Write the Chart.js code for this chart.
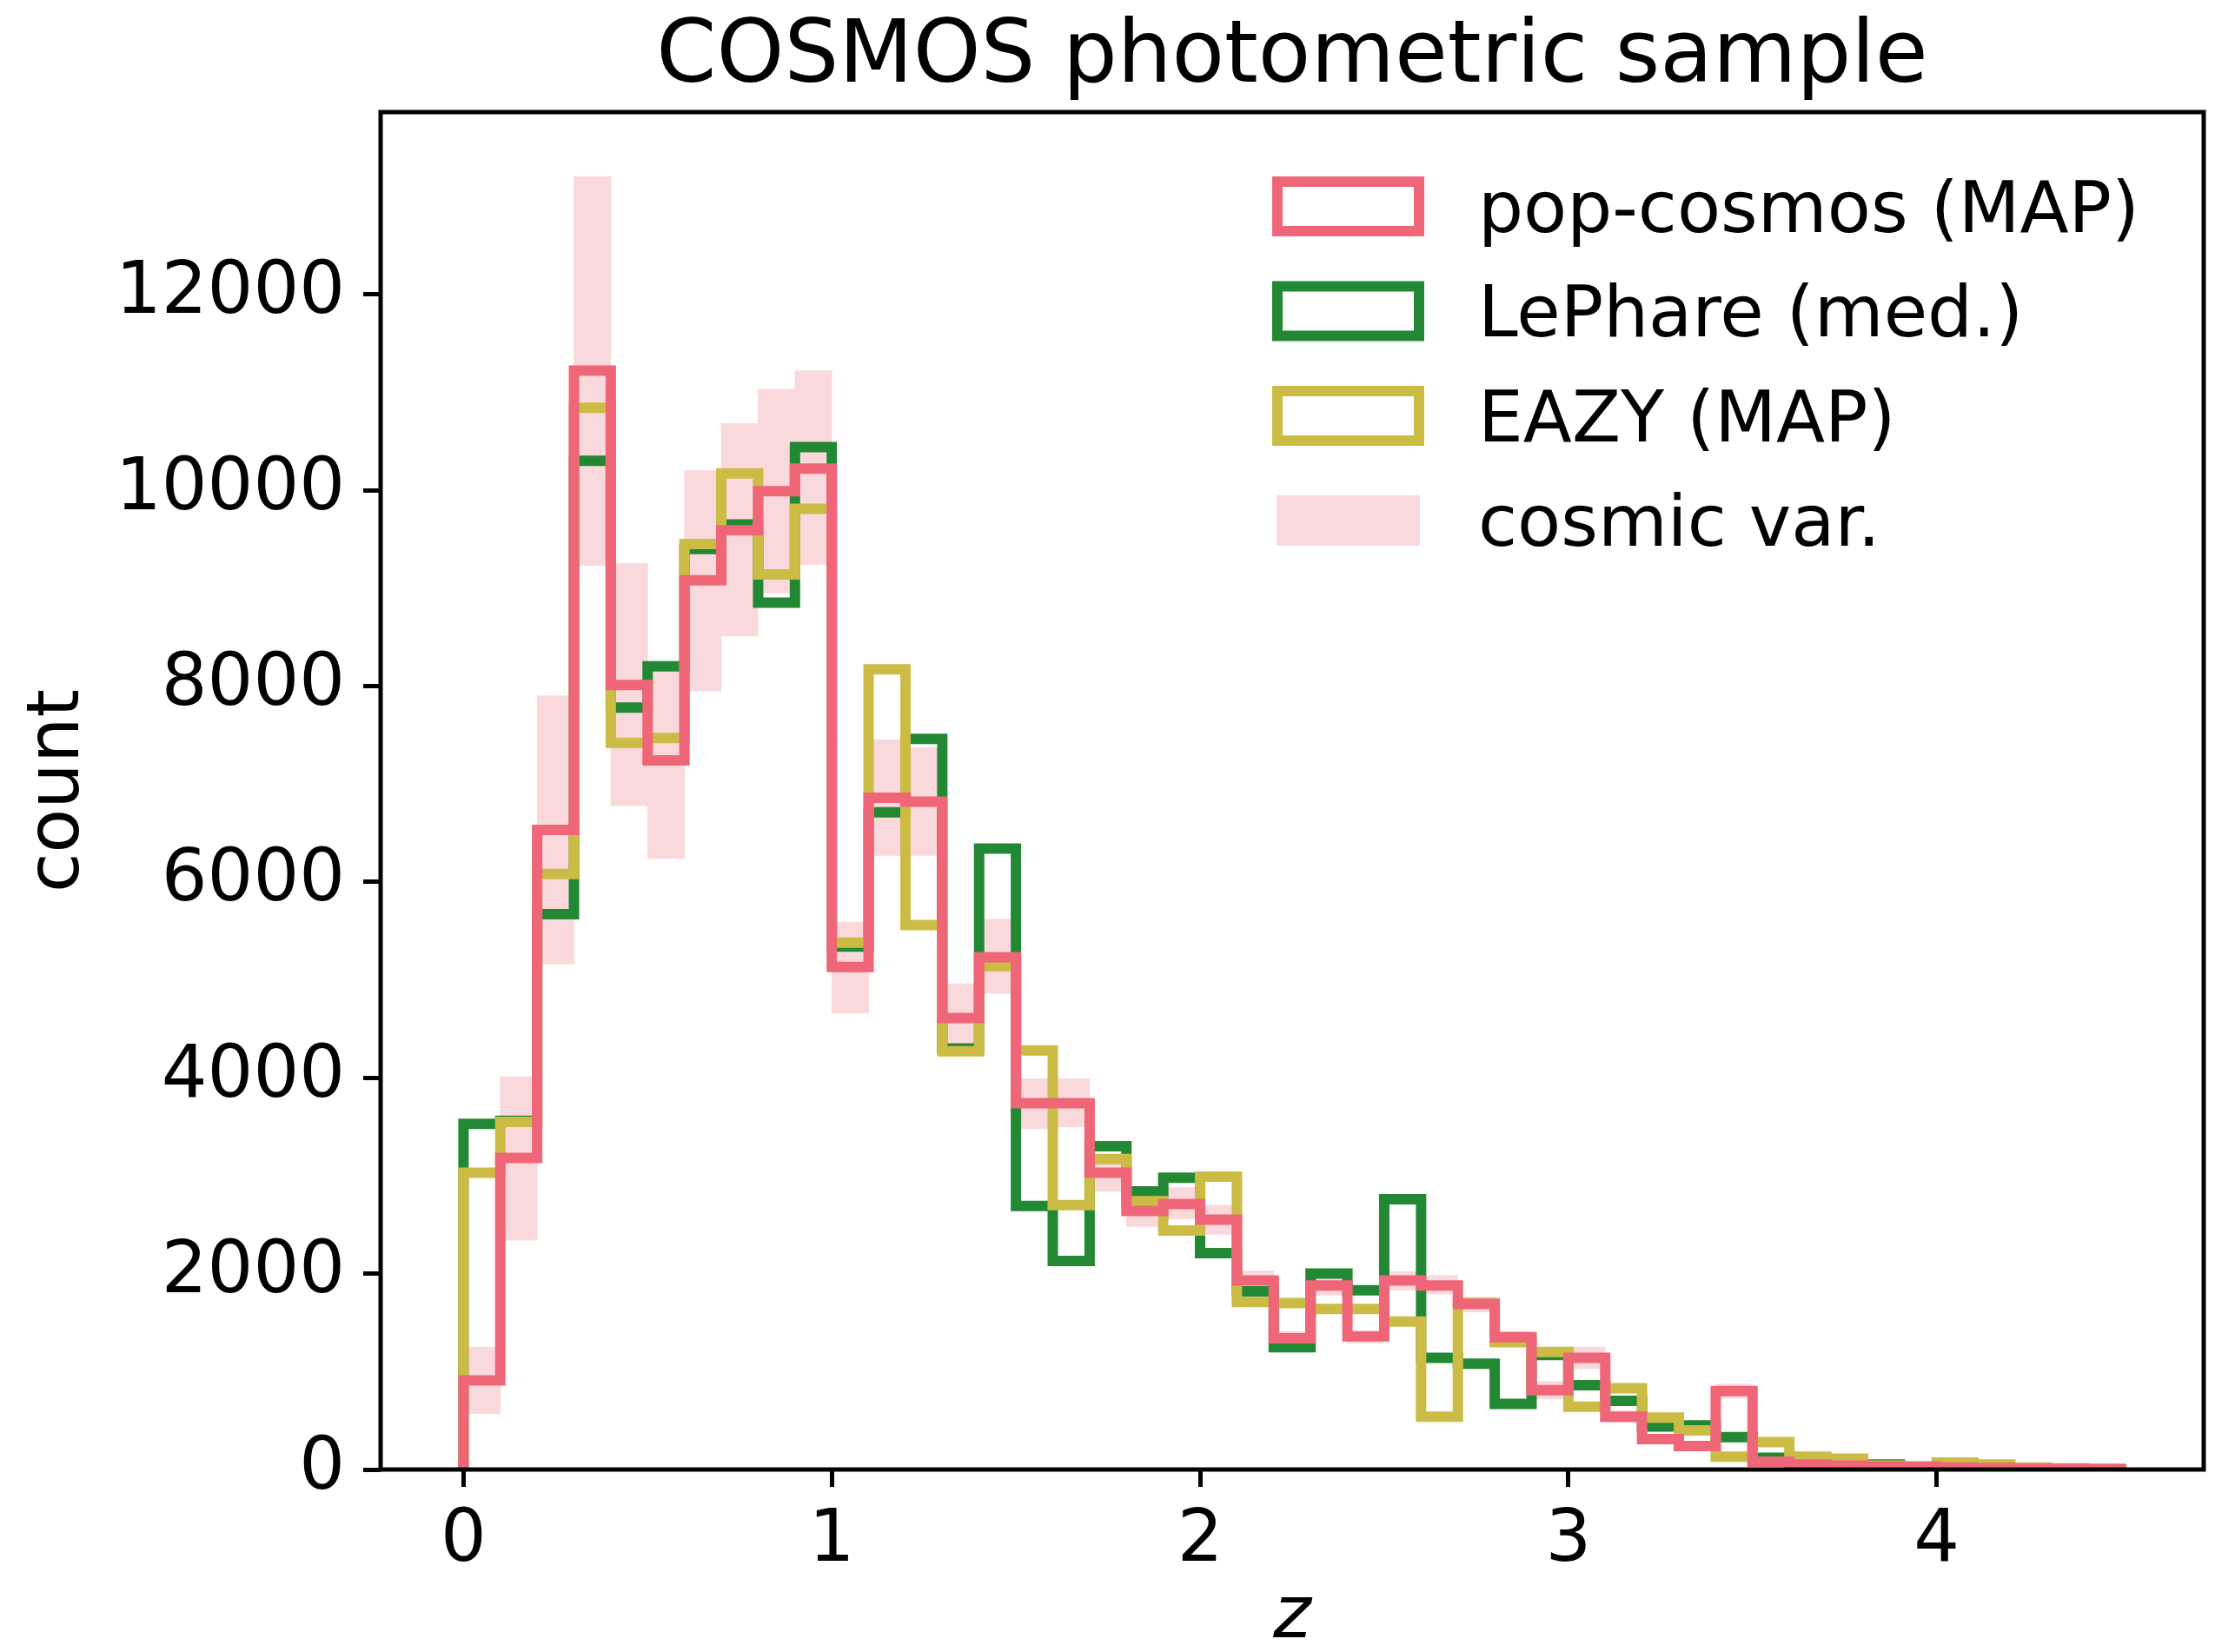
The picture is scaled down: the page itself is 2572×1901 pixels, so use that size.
<!DOCTYPE html>
<html>
<head>
<meta charset="utf-8">
<title>COSMOS photometric sample</title>
<script src="https://cdn.jsdelivr.net/npm/chart.js@4.4.1/dist/chart.umd.min.js"></script>
<style>
  html, body { margin: 0; padding: 0; background: #fff; }
  canvas { display: block; }
</style>
</head>
<body>
<canvas id="chart" width="2572" height="1901"></canvas>
<script>
// histogram bin edges in z
const zEdges = [0.0, 0.1, 0.2, 0.3, 0.4, 0.5, 0.6, 0.7, 0.8, 0.9,
    1.0, 1.1, 1.2, 1.3, 1.4, 1.5, 1.6, 1.7, 1.8, 1.9,
    2.0, 2.1, 2.2, 2.3, 2.4, 2.5, 2.6, 2.7, 2.8, 2.9,
    3.0, 3.1, 3.2, 3.3, 3.4, 3.5, 3.6, 3.7, 3.8, 3.9,
    4.0, 4.1, 4.2, 4.3, 4.4, 4.5]

// counts per bin
const popCosmos = [910, 3180, 6530, 11220, 8010, 7240, 9080, 9590, 9990, 10220,
    5130, 6860, 6820, 4610, 5230, 3740, 3740, 3030, 2640, 2710,
    2550, 1930, 1340, 1880, 1360, 1930, 1880, 1690, 1350, 810,
    1140, 540, 310, 240, 800, 80, 50, 40, 30, 30,
    20, 15, 10, 8, 5]
const lePhare = [3530, 3560, 5670, 10300, 7780, 8200, 9400, 9650, 8850, 10440,
    5340, 6710, 7460, 4300, 6340, 2690, 2130, 3300, 2840, 2980,
    2210, 1820, 1250, 2000, 1830, 2760, 1140, 1080, 670, 1170,
    860, 700, 440, 450, 330, 120, 80, 60, 50, 25,
    20, 10, 10, 5, 3]
const eazy = [3030, 3550, 6080, 10840, 7420, 7470, 9450, 10170, 9140, 9810,
    5380, 8170, 5560, 4270, 5140, 4280, 2700, 3170, 2740, 2440,
    2990, 1710, 1700, 1640, 1640, 1510, 540, 1700, 1300, 1200,
    640, 830, 530, 400, 130, 280, 130, 110, 40, 20,
    70, 50, 20, 10, 5]
// cosmic variance band (low / high)
const cosmicLow = [570, 2340, 5160, 9230, 6780, 6240, 7950, 8510, 8950, 9240,
    4660, 6270, 6270, 4300, 4860, 3480, 3500, 2840, 2480, 2560,
    2400, 1850, 1270, 1780, 1290, 1830, 1790, 1610, 1280, 720,
    1030, 480, 270, 200, 730, 60, 40, 30, 20, 20,
    10, 10, 5, 3, 2]
const cosmicHigh = [1250, 4010, 7900, 13200, 9250, 8150, 10200, 10680, 11030, 11220,
    5590, 7450, 7370, 4960, 5620, 3990, 3990, 3120, 2800, 2880,
    2700, 2030, 1410, 1950, 1410, 2020, 1980, 1760, 1410, 900,
    1250, 600, 350, 280, 870, 100, 70, 50, 40, 40,
    30, 20, 15, 10, 8]

const xTicks = [0, 1, 2, 3, 4]
const yTicks = [0, 2000, 4000, 6000, 8000, 10000, 12000]

const chartTitle = 'COSMOS photometric sample'
const RED = '#EE6677', GREEN = '#228833', YELLOW = '#CCBB44', PINK = 'rgb(250,217,221)'

Chart.defaults.font.family = '"DejaVu Sans", sans-serif'
Chart.defaults.color = '#000'

// outline of a histogram drawn as a step line
function stepOutline(counts) {
    const pts = [{x: zEdges[0], y: 0}];
    counts.forEach((c, i) => {
        pts.push({x: zEdges[i], y: c});
        pts.push({x: zEdges[i + 1], y: c});
    });
    pts.push({x: zEdges[zEdges.length - 1], y: 0});
    return pts;
}

const cosmicBars = cosmicLow.map((lo, i) => ({
    x: (zEdges[i] + zEdges[i + 1]) / 2,
    y: [lo, cosmicHigh[i]]
}));

function stepDataset(label, counts, color) {
    return {
        type: 'line',
        label: label,
        data: stepOutline(counts),
        borderColor: color,
        backgroundColor: color,
        borderWidth: 12,
        borderJoinStyle: 'miter',
        pointRadius: 0,
        tension: 0,
        fill: false,
        clip: 0
    };
}

// legend, title and frame are drawn on top of the data
const decorations = {
    id: 'decorations',
    afterDatasetsDraw(chart) {
        const {ctx, chartArea: a} = chart;
        const ds = chart.data.datasets;
        ctx.save();

        ctx.strokeStyle = '#000';
        ctx.lineWidth = 5;
        ctx.strokeRect(a.left, a.top, a.right - a.left, a.bottom - a.top);

        ctx.fillStyle = '#000';
        ctx.font = '99px "DejaVu Sans"';
        ctx.textAlign = 'center';
        ctx.textBaseline = 'alphabetic';
        ctx.fillText(chartTitle, (a.left + a.right) / 2, a.top - 35);

        // legend order: pop-cosmos, LePhare, EAZY, cosmic var.
        const order = [0, 2, 1, 3];
        const hx = a.right - 1072;
        order.forEach((idx, row) => {
            const d = ds[idx];
            const cy = a.top + 108.5 + row * 120.5;
            if (d.type === 'bar') {
                ctx.fillStyle = d.backgroundColor;
                ctx.fillRect(hx + 5, cy - 29, 165, 58);
            } else {
                ctx.strokeStyle = d.borderColor;
                ctx.lineWidth = 12;
                ctx.lineJoin = 'miter';
                ctx.strokeRect(hx + 6, cy - 28.5, 163, 57);
            }
            ctx.fillStyle = '#000';
            ctx.font = '82px "DejaVu Sans"';
            ctx.textAlign = 'left';
            ctx.fillText(d.label, a.right - 835, cy + 29);
        });
        ctx.restore();
    }
};

const tickGrid = {
    offset: false,
    drawOnChartArea: false,
    drawTicks: true,
    tickLength: 20,
    tickWidth: 5,
    tickColor: '#000'
};

new Chart(document.getElementById('chart'), {
    type: 'line',
    data: {
        datasets: [
            stepDataset('pop-cosmos (MAP)', popCosmos, RED),
            stepDataset('EAZY (MAP)', eazy, YELLOW),
            stepDataset('LePhare (med.)', lePhare, GREEN),
            {
                type: 'bar',
                label: 'cosmic var.',
                data: cosmicBars,
                backgroundColor: PINK,
                borderWidth: 0,
                barPercentage: 1,
                categoryPercentage: 1
            }
        ]
    },
    options: {
        responsive: false,
        animation: false,
        devicePixelRatio: 1,
        events: [],
        layout: {padding: {left: 0, right: 36, top: 129, bottom: 0}},
        plugins: {
            legend: {display: false},
            tooltip: {enabled: false}
        },
        scales: {
            x: {
                type: 'linear',
                min: -0.225,
                max: 4.725,
                offset: false,
                afterBuildTicks: axis => { axis.ticks = xTicks.map(v => ({value: v})) },
                afterFit: axis => { axis.height = 210 },
                grid: tickGrid,
                border: {display: false},
                ticks: {
                    padding: 14,
                    autoSkip: false,
                    maxRotation: 0,
                    font: {size: 83},
                    callback: v => String(v)
                },
                title: {
                    display: true,
                    text: 'z',
                    font: {size: 83, style: 'italic', lineHeight: 0.94},
                    padding: 0
                }
            },
            y: {
                type: 'linear',
                min: 0,
                max: 13860,
                afterBuildTicks: axis => { axis.ticks = yTicks.map(v => ({value: v})) },
                afterFit: axis => { axis.width = 438 },
                grid: tickGrid,
                border: {display: false},
                ticks: {
                    padding: 21,
                    font: {size: 83},
                    callback: v => String(v)
                },
                title: {
                    display: true,
                    text: 'count',
                    font: {size: 83, lineHeight: 1.2},
                    padding: {top: 19, bottom: 0}
                }
            }
        }
    },
    plugins: [decorations]
});
</script>
</body>
</html>
